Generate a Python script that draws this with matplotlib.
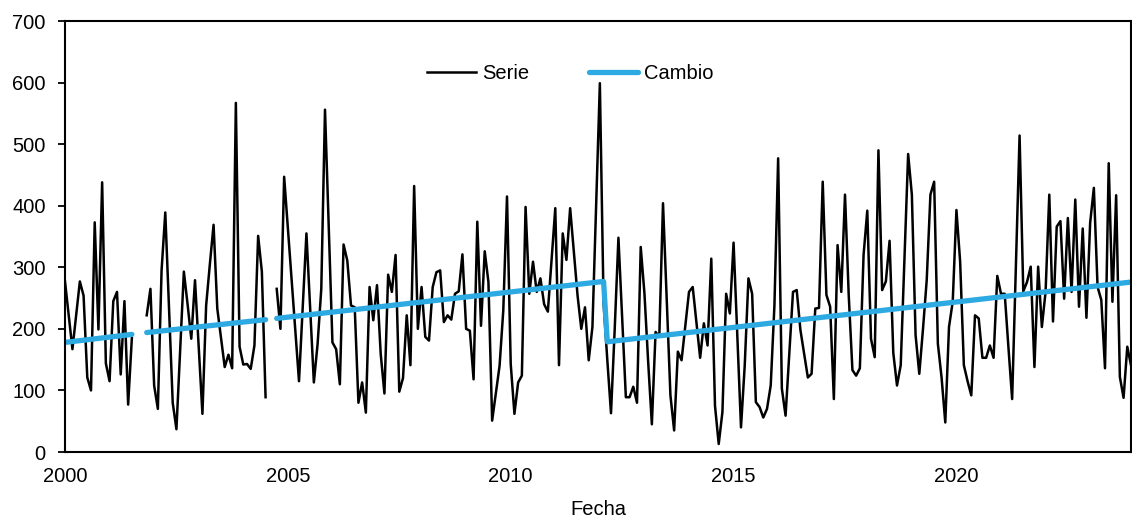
import matplotlib.pyplot as plt
import numpy as np

plt.rcParams['font.family'] = ['Liberation Sans', 'DejaVu Sans']
plt.rcParams['font.size'] = 14.5

# Monthly series, month index counted from Jan 2000
# block 1: Jan 2000 - Jul 2001
serie_a = [277, 222, 167, 222, 277, 254, 121, 100, 373, 199, 438, 144, 115, 245,
           260, 126, 245, 77, 185]
# block 2: Nov 2001 - Jul 2004
serie_b = [222, 265, 108, 70, 295, 389, 235, 80, 37, 165, 293, 240, 184, 279, 170,
           62, 238, 305, 369, 233, 185, 138, 158, 136, 567, 171, 142, 143, 135, 173,
           351, 293, 89]
# block 3: Oct 2004 - Dec 2023
serie_c = [265, 200, 447, 364, 281, 198, 115, 235, 355, 234, 113, 175, 265, 556,
           367, 178, 167, 110, 337, 311, 238, 235, 80, 113, 64, 268, 214, 271, 159,
           95, 288, 260, 320, 98, 120, 222, 141, 432, 200, 268, 187, 181, 268, 292,
           295, 211, 222, 215, 257, 261, 321, 200, 197, 118, 374, 205, 326, 276, 51,
           95, 140, 230, 415, 143, 62, 113, 124, 398, 257, 309, 260, 282, 240, 228,
           312, 396, 141, 355, 312, 396, 325, 254, 200, 235, 149, 203, 400, 599, 242,
           150, 63, 200, 348, 218, 89, 89, 106, 80, 333, 258, 147, 45, 195, 187, 404,
           248, 92, 35, 163, 149, 205, 260, 268, 210, 153, 209, 173, 314, 75, 13, 65,
           257, 225, 340, 190, 40, 140, 282, 257, 81, 73, 56, 70, 108, 238, 477, 103,
           59, 160, 260, 263, 198, 160, 121, 127, 233, 234, 439, 255, 236, 86, 336,
           260, 418, 255, 133, 124, 136, 320, 392, 184, 154, 490, 263, 277, 343, 161,
           108, 141, 310, 484, 418, 190, 127, 200, 279, 418, 439, 176, 121, 48, 203,
           244, 393, 309, 141, 115, 92, 222, 217, 153, 153, 173, 153, 286, 257, 257,
           170, 86, 300, 514, 261, 276, 301, 138, 301, 203, 260, 418, 212, 366, 375,
           249, 380, 260, 410, 236, 363, 218, 372, 429, 268, 247, 136, 469, 244, 417,
           122, 88, 171, 141]
start_a, start_b, start_c = 0, 22, 57

# "Cambio": trend pieces, (month index, value) at their ends
cambio_a_m = [0, 18]
cambio_a_v = [178, 191]
cambio_b_m = [22, 54]
cambio_b_v = [194, 215]
cambio_c_m = [57, 145, 146, 287]
cambio_c_v = [217, 277, 179, 276]

n_months = start_c + len(serie_c)
values = np.full(n_months, np.nan)
values[start_a:start_a + len(serie_a)] = serie_a
values[start_b:start_b + len(serie_b)] = serie_b
values[start_c:start_c + len(serie_c)] = serie_c
dates = 2000 + np.arange(n_months) / 12

fig = plt.figure(figsize=(11.32, 5.21), dpi=100)
ax = fig.add_axes([65 / 1132, 69 / 521, 1066 / 1132, 431 / 521])

ax.plot(dates, values, color='black', lw=1.8, label='Serie')
blue = '#2DAAE1'
ax.plot(2000 + np.array(cambio_a_m) / 12, cambio_a_v, color=blue, lw=3.8,
        solid_capstyle='round', label='Cambio')
ax.plot(2000 + np.array(cambio_b_m) / 12, cambio_b_v, color=blue, lw=3.8,
        solid_capstyle='round')
ax.plot(2000 + np.array(cambio_c_m) / 12, cambio_c_v, color=blue, lw=3.8,
        solid_capstyle='round')

ax.set_xlim(2000, dates[-1])
ax.set_ylim(0, 700)
ax.set_xticks([2000, 2005, 2010, 2015, 2020])
ax.set_yticks(range(0, 701, 100))
ax.tick_params(axis='x', length=0, pad=11)
ax.tick_params(axis='y', direction='out', length=5, width=1.3, pad=9)
for s in ax.spines.values():
    s.set_linewidth(1.5)

ax.set_xlabel('Fecha', labelpad=10)
ax.legend(loc='center', bbox_to_anchor=(0.474, 0.879), ncol=2, frameon=False,
          handlelength=2.4, handletextpad=0.3, columnspacing=3.0)

fig.savefig('out.png', dpi=100)
